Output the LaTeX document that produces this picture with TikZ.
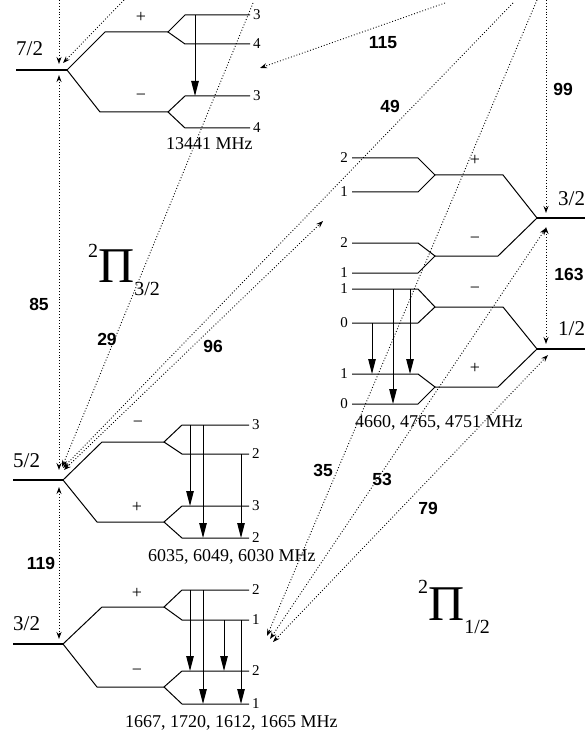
\documentclass[tikz,border=0pt]{standalone}
\usepackage{fontspec}
\setmainfont{Liberation Serif}
\newfontfamily\wlfont{Liberation Sans}
\usetikzlibrary{arrows.meta}

\begin{document}
\begin{tikzpicture}[
  x=1pt, y=-1pt,
  jlevel/.style={line width=1.8pt},
  branch/.style={line width=1pt},
  maser/.style={-{Triangle[length=15pt,width=7.5pt]}, line width=1pt},
  fir/.style={line width=0.9pt, dash pattern=on 0.9pt off 2pt},
  firend/.style={fir, -{Stealth[length=7pt,width=5pt]}},
  firboth/.style={fir, {Stealth[length=7pt,width=5pt]}-{Stealth[length=7pt,width=5pt]}},
  jlab/.style={anchor=base west, inner sep=0pt, font=\fontsize{21}{21}\selectfont},
  flab/.style={inner sep=0pt, font=\fontsize{15}{15}\selectfont},
  parity/.style={inner sep=0pt, font=\fontsize{18}{18}\selectfont},
  freq/.style={anchor=base west, inner sep=0pt, font=\fontsize{18}{18}\selectfont},
  wl/.style={inner sep=0pt, font=\wlfont\bfseries\fontsize{17.5}{17.5}\selectfont},
  term/.style={anchor=base west, inner sep=0pt},
]
\useasboundingbox (0,0) rectangle (584,735);

% ---- 2Pi 3/2, J = 7/2
\draw[jlevel] (16,70) -- (67,70);
\draw[branch] (168,32) -- (105,32) -- (67,70) -- (100,112) -- (168,112);
\draw[branch] (250,15) -- (185,15) -- (168,32) -- (185,44) -- (250,44);
\draw[branch] (250,96) -- (185,96) -- (168,112) -- (185,128) -- (250,128);
\node[jlab] (j72) at (16,56) {7/2};
\node[parity] (p72up) at (141,17) {+};
\node[parity] (p72dn) at (141,97) {−};
\node[flab, anchor=west] (f72a) at (253,15) {3};
\node[flab, anchor=west] (f72b) at (253,44) {4};
\node[flab, anchor=west] (f72c) at (253,96) {3};
\node[flab, anchor=west] (f72d) at (253,128) {4};
\coordinate (m72s) at (195,15);
\coordinate (m72e) at (195,96);
\draw[maser] (m72s) -- (m72e);
\node[freq] (nu72) at (166,150) {13441 MHz};

% ---- 2Pi 3/2, J = 5/2
\draw[jlevel] (13,480) -- (63,480);
\draw[branch] (164,442) -- (102,442) -- (63,480) -- (97,522) -- (164,522);
\draw[branch] (249,425) -- (182,425) -- (164,442) -- (182,454) -- (249,454);
\draw[branch] (249,506) -- (182,506) -- (164,522) -- (182,538) -- (249,538);
\node[jlab] (j52) at (13,467) {5/2};
\node[parity] (p52up) at (138,424) {−};
\node[parity] (p52dn) at (137,507) {+};
\node[flab, anchor=west] (f52a) at (252,425) {3};
\node[flab, anchor=west] (f52b) at (252,454) {2};
\node[flab, anchor=west] (f52c) at (252,506) {3};
\node[flab, anchor=west] (f52d) at (252,538) {2};
\coordinate (u52a) at (190,425);
\coordinate (u52b) at (203,425);
\coordinate (u52c) at (241,454);
\coordinate (l52a) at (190,506);
\coordinate (l52b) at (203,538);
\coordinate (l52c) at (241,538);
\draw[maser] (u52a) -- (l52a);
\draw[maser] (u52b) -- (l52b);
\draw[maser] (u52c) -- (l52c);
\node[freq] (nu52) at (148,561) {6035, 6049, 6030 MHz};

% ---- 2Pi 3/2, J = 3/2
\draw[jlevel] (13,644) -- (63,644);
\draw[branch] (164,607) -- (102,607) -- (63,644) -- (97,687) -- (164,687);
\draw[branch] (249,590) -- (182,590) -- (164,607) -- (182,620) -- (249,620);
\draw[branch] (249,671) -- (182,671) -- (164,687) -- (182,704) -- (249,704);
\node[jlab] (j32) at (13,630) {3/2};
\node[parity] (p32up) at (137,593) {+};
\node[parity] (p32dn) at (137,672) {−};
\node[flab, anchor=west] (f32a) at (252,590) {2};
\node[flab, anchor=west] (f32b) at (252,620) {1};
\node[flab, anchor=west] (f32c) at (252,671) {2};
\node[flab, anchor=west] (f32d) at (252,704) {1};
\coordinate (u32a) at (190,590);
\coordinate (u32b) at (203,590);
\coordinate (u32c) at (224,620);
\coordinate (u32d) at (241,620);
\coordinate (l32a) at (190,671);
\coordinate (l32b) at (203,704);
\coordinate (l32c) at (224,671);
\coordinate (l32d) at (241,704);
\draw[maser] (u32a) -- (l32a);
\draw[maser] (u32b) -- (l32b);
\draw[maser] (u32c) -- (l32c);
\draw[maser] (u32d) -- (l32d);
\node[freq] (nu32) at (125,727) {1667, 1720, 1612, 1665 MHz};

% ---- 2Pi 1/2, J = 3/2
\draw[jlevel] (537,218) -- (590,218);
\draw[branch] (435,175) -- (503,175) -- (537,218) -- (498,256) -- (435,256);
\draw[branch] (352,158) -- (418,158) -- (435,175) -- (418,192) -- (352,192);
\draw[branch] (352,243) -- (418,243) -- (435,256) -- (418,273) -- (352,273);
\node[jlab] (k32) at (558,205) {3/2};
\node[parity] (q32up) at (475,160) {+};
\node[parity] (q32dn) at (475,240) {−};
\node[flab, anchor=east] (g32a) at (348,158) {2};
\node[flab, anchor=east] (g32b) at (348,192) {1};
\node[flab, anchor=east] (g32c) at (348,243) {2};
\node[flab, anchor=east] (g32d) at (348,273) {1};

% ---- 2Pi 1/2, J = 1/2
\draw[jlevel] (537,349) -- (590,349);
\draw[branch] (435,307) -- (503,307) -- (537,349) -- (498,387) -- (435,387);
\draw[branch] (352,289) -- (418,289) -- (435,307) -- (418,323) -- (352,323);
\draw[branch] (352,374) -- (418,374) -- (435,387) -- (418,404) -- (352,404);
\node[jlab] (k12) at (558,335) {1/2};
\node[parity] (q12up) at (475,290) {−};
\node[parity] (q12dn) at (475,368) {+};
\node[flab, anchor=east] (g12a) at (348,289) {1};
\node[flab, anchor=east] (g12b) at (348,323) {0};
\node[flab, anchor=east] (g12c) at (348,374) {1};
\node[flab, anchor=east] (g12d) at (348,404) {0};
\coordinate (u12a) at (372,323);
\coordinate (u12b) at (393,289);
\coordinate (u12c) at (410,289);
\coordinate (l12a) at (372,374);
\coordinate (l12b) at (393,404);
\coordinate (l12c) at (410,374);
\draw[maser] (u12a) -- (l12a);
\draw[maser] (u12b) -- (l12b);
\draw[maser] (u12c) -- (l12c);
\node[freq] (nu12) at (355,427) {4660, 4765, 4751 MHz};

% ---- far-infrared lines
\coordinate (top85) at (59,0);
\coordinate (a72) at (59,64);
\coordinate (b72) at (59,75);
\coordinate (a52) at (59,470);
\coordinate (b52) at (59,487);
\coordinate (a32) at (59,639);
\coordinate (top72) at (124,0);
\coordinate (s72) at (63,63);
\coordinate (top29) at (253,3);
\coordinate (s29) at (62,467);
\coordinate (top115) at (445,3);
\coordinate (e115) at (260,68);
\coordinate (top49) at (513,3);
\coordinate (s49) at (63,468);
\coordinate (s96) at (64,470);
\coordinate (e96) at (323,221);
\coordinate (top35) at (537,0);
\coordinate (s35) at (267,636);
\coordinate (s53) at (270,639);
\coordinate (s79) at (273,642);
\coordinate (e53) at (546,228);
\coordinate (e79) at (548,355);
\coordinate (top99) at (546,0);
\coordinate (e99) at (546,213);
\coordinate (a163) at (546,227);
\coordinate (b163) at (546,344);

\draw[firend] (top85) -- (a72);
\draw[firboth] (a52) -- (b72);
\draw[firboth] (b52) -- (a32);
\draw[firend] (top72) -- (s72);
\draw[firend] (top29) -- (s29);
\draw[firend] (top115) -- (e115);
\draw[firend] (top49) -- (s49);
\draw[firboth] (s96) -- (e96);
\draw[firend] (top35) -- (s35);
\draw[firboth] (s53) -- (e53);
\draw[firboth] (s79) -- (e79);
\draw[firend] (top99) -- (e99);
\draw[firboth] (a163) -- (b163);

\node[wl] (w115) at (383,43) {115};
\node[wl] (w49) at (390,106) {49};
\node[wl] (w99) at (563,89) {99};
\node[wl] (w85) at (39,304) {85};
\node[wl] (w29) at (107,339) {29};
\node[wl] (w96) at (213,346) {96};
\node[wl] (w163) at (569,274) {163};
\node[wl] (w119) at (41,563) {119};
\node[wl] (w35) at (323,470) {35};
\node[wl] (w53) at (382,479) {53};
\node[wl] (w79) at (428,508) {79};

% ---- term symbols
\node[term] (pi32) at (88,282) {{\fontsize{20}{20}\selectfont\raisebox{25pt}{2}}{\fontsize{50}{50}\selectfont Π}{\fontsize{20}{20}\selectfont\raisebox{-13pt}{3/2}}};
\node[term] (pi12) at (418,620) {{\fontsize{20}{20}\selectfont\raisebox{27pt}{2}}{\fontsize{50}{50}\selectfont Π}{\fontsize{20}{20}\selectfont\raisebox{-13pt}{1/2}}};

\end{tikzpicture}
\end{document}
